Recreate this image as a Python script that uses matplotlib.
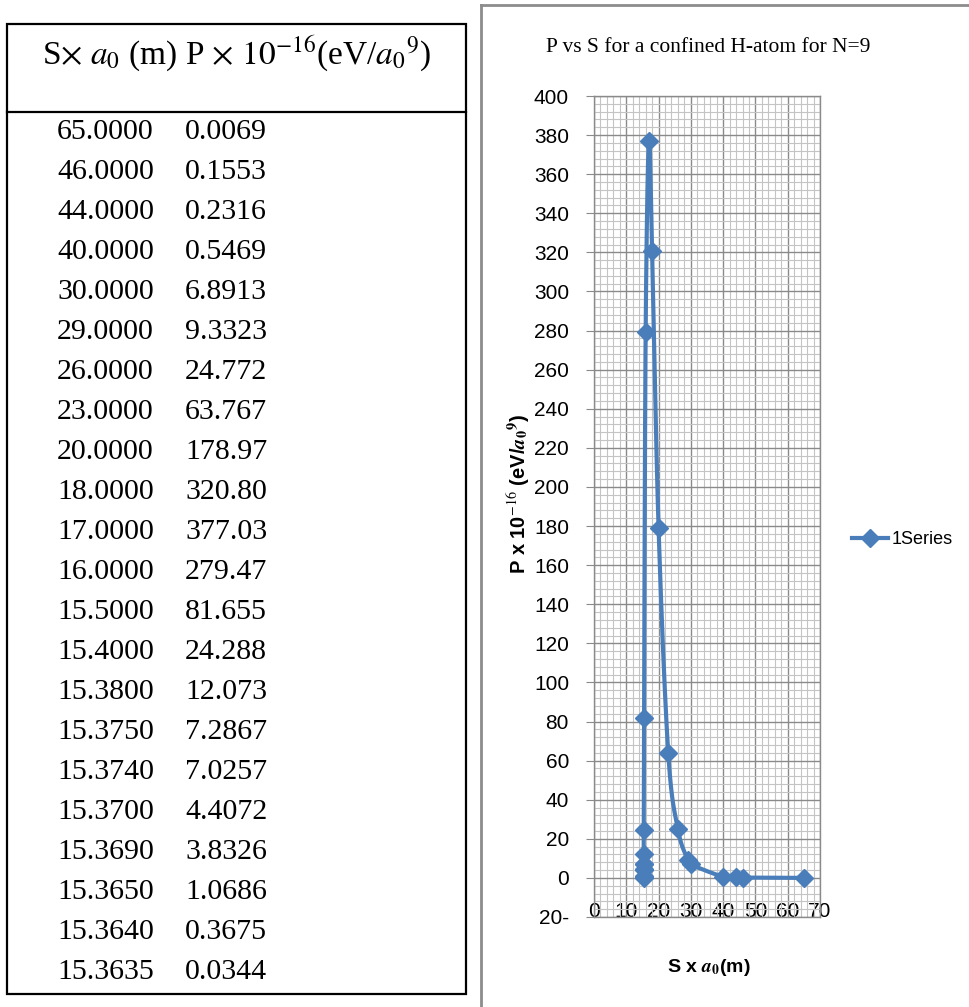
import numpy as np
import matplotlib
matplotlib.use("Agg")
import matplotlib.pyplot as plt
from matplotlib.patches import Rectangle
from matplotlib.lines import Line2D
from matplotlib.ticker import MultipleLocator, FuncFormatter

# --- Data ---
s_vals = [65.0000, 46.0000, 44.0000, 40.0000, 30.0000, 29.0000, 26.0000, 23.0000,
          20.0000, 18.0000, 17.0000, 16.0000, 15.5000, 15.4000, 15.3800, 15.3750,
          15.3740, 15.3700, 15.3690, 15.3650, 15.3640, 15.3635]
p_vals = [0.0069, 0.1553, 0.2316, 0.5469, 6.8913, 9.3323, 24.772, 63.767,
          178.97, 320.80, 377.03, 279.47, 81.655, 24.288, 12.073, 7.2867,
          7.0257, 4.4072, 3.8326, 1.0686, 0.3675, 0.0344]
s_text = ["65.0000", "46.0000", "44.0000", "40.0000", "30.0000", "29.0000",
          "26.0000", "23.0000", "20.0000", "18.0000", "17.0000", "16.0000",
          "15.5000", "15.4000", "15.3800", "15.3750", "15.3740", "15.3700",
          "15.3690", "15.3650", "15.3640", "15.3635"]
p_text = ["0.0069", "0.1553", "0.2316", "0.5469", "6.8913", "9.3323",
          "24.772", "63.767", "178.97", "320.80", "377.03", "279.47",
          "81.655", "24.288", "12.073", "7.2867", "7.0257", "4.4072",
          "3.8326", "1.0686", "0.3675", "0.0344"]

W, H = 970, 1007
plt.rcParams['mathtext.fontset'] = 'stix'
fig = plt.figure(figsize=(W / 100, H / 100), dpi=100)


def fx(px):
    return px / W


def fy(py):
    return 1 - py / H


# --- Table on the left ---
fig.patches.append(Rectangle((fx(7), fy(994)), fx(466) - fx(7), fy(24) - fy(994),
                             transform=fig.transFigure, fill=False,
                             edgecolor='black', linewidth=1.6))
fig.lines.append(Line2D([fx(7), fx(466)], [fy(112), fy(112)],
                        transform=fig.transFigure, color='black', linewidth=1.6))
fig.text(fx(236), fy(54),
         r"S$\times$ $a_0$ (m) P $\times$ $10^{-16}$(eV/$a_0$$^9$)",
         family='Liberation Serif', fontsize=24, ha='center', va='center')
for i, (a, b) in enumerate(zip(s_text, p_text)):
    yy = fy(132 + 40 * i)
    fig.text(fx(154), yy, a, family='Liberation Serif', fontsize=21.5,
             ha='right', va='center')
    fig.text(fx(185), yy, b, family='Liberation Serif', fontsize=21.5,
             ha='left', va='center')

# --- Chart panel frame ---
fig.lines.append(Line2D([fx(481), fx(481)], [fy(5), 0], transform=fig.transFigure,
                        color='#8c8c8c', linewidth=2))
fig.lines.append(Line2D([fx(481), 1], [fy(5), fy(5)], transform=fig.transFigure,
                        color='#8c8c8c', linewidth=2))

ax = fig.add_axes([fx(594), fy(917), fx(820) - fx(594), fy(96) - fy(917)])
ax.set_xlim(0, 70)
ax.set_ylim(-20, 400)


def smooth_line(xs, ys, xr, yr, n=30):
    # Bezier smoothing done in screen-like proportions
    x = (np.asarray(xs) - xr[0]) / (xr[1] - xr[0]) * 0.28
    y = (np.asarray(ys) - yr[0]) / (yr[1] - yr[0])
    pts = np.column_stack([x, y])
    out = []
    for k in range(len(pts) - 1):
        p0 = pts[max(k - 1, 0)]
        p1 = pts[k]
        p2 = pts[k + 1]
        p3 = pts[min(k + 2, len(pts) - 1)]
        c1 = p1 + (p2 - p0) / 6
        c2 = p2 - (p3 - p1) / 6
        t = np.linspace(0, 1, n)[:, None]
        seg = ((1 - t) ** 3 * p1 + 3 * (1 - t) ** 2 * t * c1
               + 3 * (1 - t) * t ** 2 * c2 + t ** 3 * p2)
        out.append(seg)
    out = np.vstack(out)
    return (out[:, 0] / 0.28 * (xr[1] - xr[0]) + xr[0],
            out[:, 1] * (yr[1] - yr[0]) + yr[0])


color = '#4A7EBB'
sx, sy = smooth_line(s_vals, p_vals, (0, 70), (-20, 400))
ax.plot(sx, sy, color=color, linewidth=3, solid_capstyle='round', zorder=3)
ax.plot(s_vals, p_vals, linestyle='none', marker='D', markersize=9,
        color=color, zorder=4)

# grid
ax.xaxis.set_major_locator(MultipleLocator(10))
ax.xaxis.set_minor_locator(MultipleLocator(2))
ax.yaxis.set_major_locator(MultipleLocator(20))
ax.yaxis.set_minor_locator(MultipleLocator(4))
ax.grid(True, which='major', color='#8a8a8a', linewidth=1.0)
ax.grid(True, which='minor', color='#c4c4c4', linewidth=0.8)
ax.set_axisbelow(True)
for sp in ax.spines.values():
    sp.set_color('#8a8a8a')
    sp.set_linewidth(1.0)

ax.yaxis.set_major_formatter(FuncFormatter(
    lambda v, p: f"{int(-v)}-" if v < 0 else f"{int(v)}"))
ax.tick_params(axis='y', which='major', length=6, color='#8a8a8a', pad=12,
               labelsize=15)
ax.tick_params(axis='x', which='major', length=0, pad=-11, labelsize=15)
ax.tick_params(which='minor', length=0)
for lab in ax.get_xticklabels() + ax.get_yticklabels():
    lab.set_family('Liberation Sans')

fig.text(fx(708), fy(48), "P vs S for a confined H-atom for N=9",
         family='Liberation Serif', fontsize=15.5, ha='center', va='center')
fig.text(fx(519), fy(494), r"P x 10$^{-16}$ (eV/$\mathbfit{a}_\mathbf{0}$$^\mathbf{9}$)",
         family='Liberation Sans', fontsize=14.5, fontweight='bold',
         rotation=90, ha='center', va='center')
fig.text(fx(709), fy(968), r"S x $\mathbfit{a}_\mathbf{0}$(m)",
         family='Liberation Sans', fontsize=14, fontweight='bold',
         ha='center', va='center')

# legend
handle = Line2D([], [], color=color, linewidth=3, marker='D', markersize=9)
fig.legend([handle], ["1Series"], loc='center left',
           bbox_to_anchor=(fx(852), fy(540)), frameon=False,
           prop={'family': 'Liberation Sans', 'size': 13},
           handlelength=2.0, handletextpad=0.2, borderaxespad=0, borderpad=0)

fig.savefig("out.png", dpi=100)
